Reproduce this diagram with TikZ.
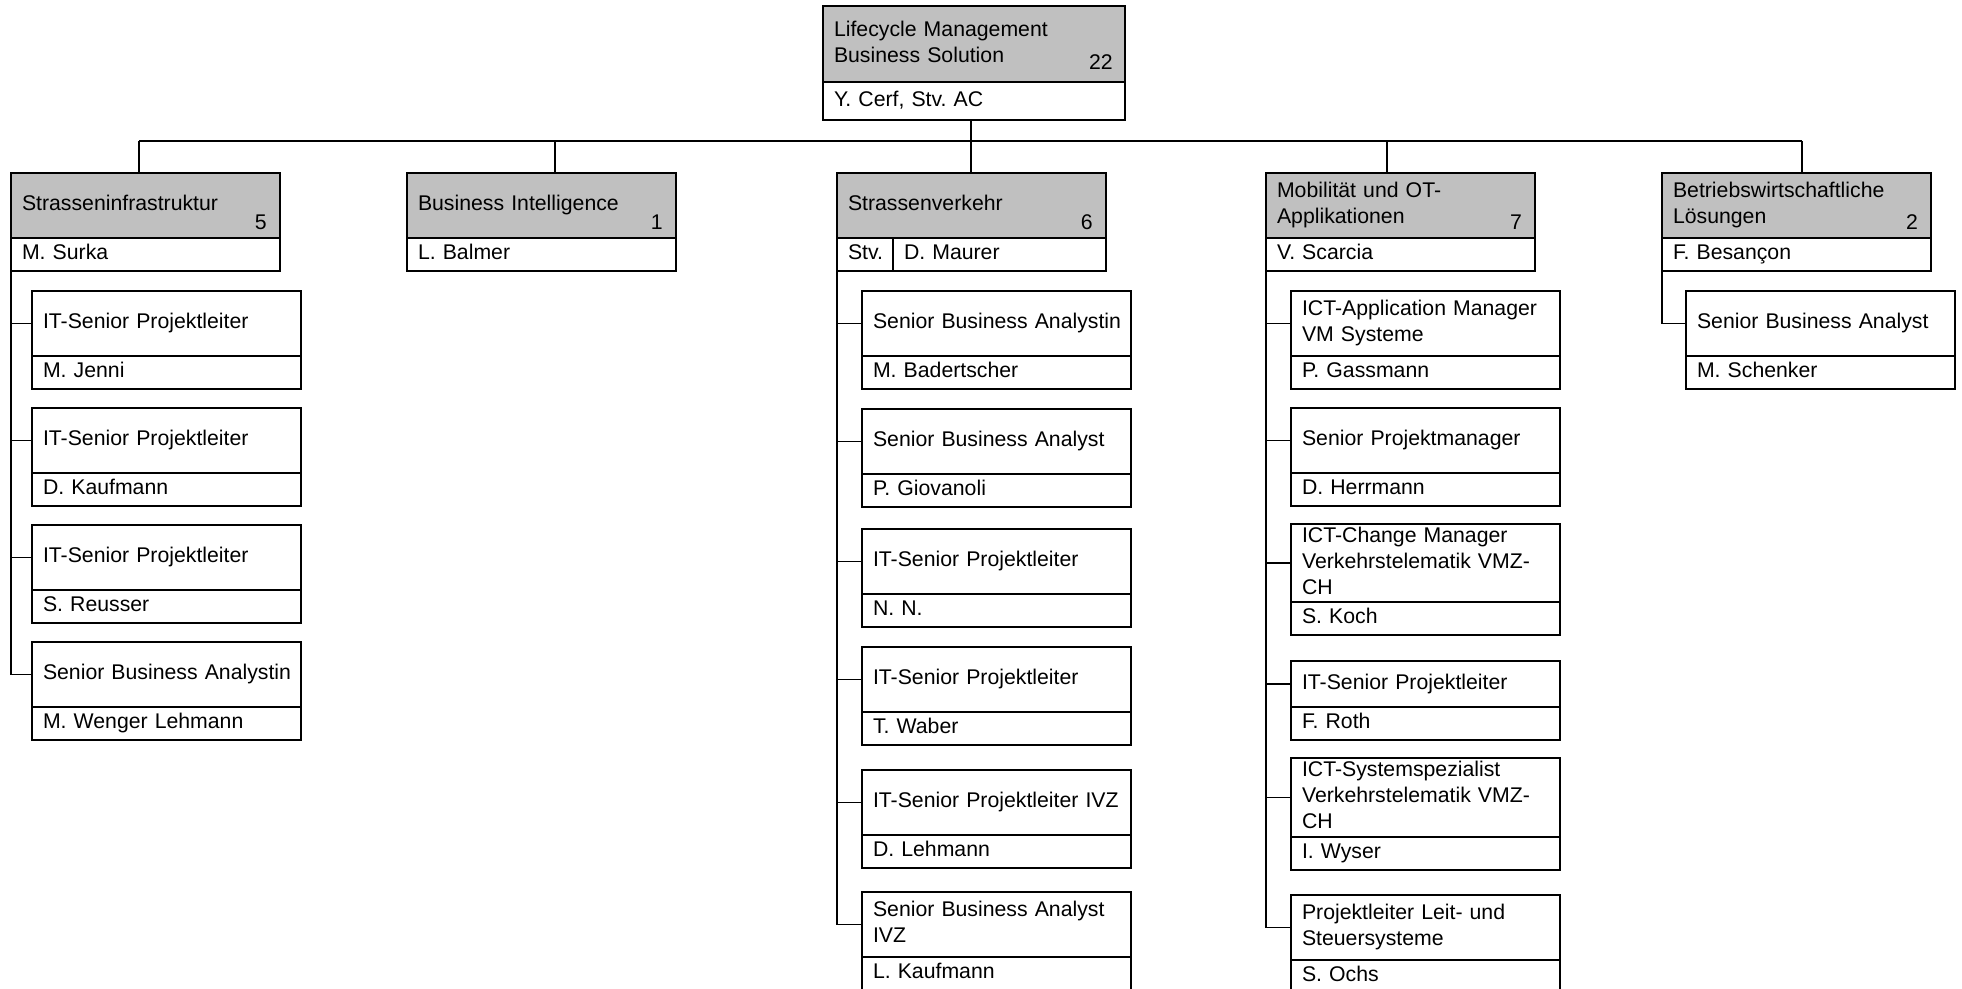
\documentclass[tikz,border=0pt]{standalone}
\usepackage{fontspec}
\setmainfont{Liberation Sans}
\usetikzlibrary{positioning}
\definecolor{headgrey}{RGB}{192,192,192}
\frenchspacing

\begin{document}
\begin{tikzpicture}[x=1pt, y=-1pt,
  every node/.style={font=\fontsize{21.25}{26}\selectfont},
  box/.style={draw, line width=1.7pt, rectangle, anchor=north west, align=left,
    inner xsep=5pt, inner ysep=0pt, outer sep=0pt, text width=259pt,
    execute at begin node={\leftskip=6pt\strut}, execute at end node=\strut},
  headbox/.style={box, fill=headgrey, minimum height=65pt},
  jobbox/.style={box, fill=white, minimum height=65pt},
  namebox/.style={box, fill=white, minimum height=33pt},
  count/.style={anchor=base east, inner sep=0pt},
  link/.style={line width=1.7pt}]
\useasboundingbox (0,0) rectangle (1962,988);

% Top unit
\node[headbox, text width=292pt, minimum height=76pt] (lmbs) at (823,6) {Lifecycle Management\\Business Solution};
\node[namebox, text width=292pt, minimum height=38pt, below=0pt of lmbs] (lmbs-n) {Y. Cerf, Stv. AC};
\node[count] (lmbs-c) at ([shift={(-12,-13)}]lmbs.south east) {22};

% Bus
\coordinate (bus) at (971,141);
\coordinate (d1) at (139,141);
\coordinate (d2) at (555,141);
\coordinate (d4) at (1387,141);
\coordinate (d5) at (1802,141);
\draw[link] (bus |- lmbs-n.south) -- (bus);
\draw[link] (d1) -- (d5);

% Departments
\node[headbox] (si) at (11,173) {Strasseninfrastruktur};
\node[namebox, below=0pt of si] (si-n) {M. Surka};
\node[count] (si-c) at ([shift={(-13,-9)}]si.south east) {5};

\node[headbox] (bi) at (407,173) {Business Intelligence};
\node[namebox, below=0pt of bi] (bi-n) {L. Balmer};
\node[count] (bi-c) at ([shift={(-13,-9)}]bi.south east) {1};

\node[headbox] (sv) at (837,173) {Strassenverkehr};
\node[namebox, text width=46pt] (sv-s) at (sv.south west) {Stv.};
\node[namebox, text width=203pt] (sv-n) at (sv-s.north east) {D. Maurer};
\node[count] (sv-c) at ([shift={(-13,-9)}]sv.south east) {6};

\node[headbox] (mo) at (1266,173) {Mobilität und OT-\\Applikationen};
\node[namebox, below=0pt of mo] (mo-n) {V. Scarcia};
\node[count] (mo-c) at ([shift={(-13,-9)}]mo.south east) {7};

\node[headbox] (bw) at (1662,173) {Betriebswirtschaftliche\\Lösungen};
\node[namebox, below=0pt of bw] (bw-n) {F. Besançon};
\node[count] (bw-c) at ([shift={(-13,-9)}]bw.south east) {2};

\draw[link] (d1) -- (d1 |- si.north);
\draw[link] (d2) -- (d2 |- bi.north);
\draw[link] (bus) -- (bus |- sv.north);
\draw[link] (d4) -- (d4 |- mo.north);
\draw[link] (d5) -- (d5 |- bw.north);

% Strasseninfrastruktur staff
\node[jobbox] (si1) at (32,291) {IT-Senior Projektleiter};
\node[namebox, below=0pt of si1] (si1-n) {M. Jenni};
\node[jobbox] (si2) at (32,408) {IT-Senior Projektleiter};
\node[namebox, below=0pt of si2] (si2-n) {D. Kaufmann};
\node[jobbox] (si3) at (32,525) {IT-Senior Projektleiter};
\node[namebox, below=0pt of si3] (si3-n) {S. Reusser};
\node[jobbox] (si4) at (32,642) {Senior Business Analystin};
\node[namebox, below=0pt of si4] (si4-n) {M. Wenger Lehmann};
\draw[link] (si-n.south west) |- (si1.west);
\draw[link] (si-n.south west) |- (si2.west);
\draw[link] (si-n.south west) |- (si3.west);
\draw[link] (si-n.south west) |- (si4.west);

% Strassenverkehr staff
\node[jobbox] (sv1) at (862,291) {Senior Business Analystin};
\node[namebox, below=0pt of sv1] (sv1-n) {M. Badertscher};
\node[jobbox] (sv2) at (862,409) {Senior Business Analyst};
\node[namebox, below=0pt of sv2] (sv2-n) {P. Giovanoli};
\node[jobbox] (sv3) at (862,529) {IT-Senior Projektleiter};
\node[namebox, below=0pt of sv3] (sv3-n) {N. N.};
\node[jobbox] (sv4) at (862,647) {IT-Senior Projektleiter};
\node[namebox, below=0pt of sv4] (sv4-n) {T. Waber};
\node[jobbox] (sv5) at (862,770) {IT-Senior Projektleiter IVZ};
\node[namebox, below=0pt of sv5] (sv5-n) {D. Lehmann};
\node[jobbox] (sv6) at (862,892) {Senior Business Analyst\\IVZ};
\node[namebox, below=0pt of sv6] (sv6-n) {L. Kaufmann};
\draw[link] (sv-s.south west) |- (sv1.west);
\draw[link] (sv-s.south west) |- (sv2.west);
\draw[link] (sv-s.south west) |- (sv3.west);
\draw[link] (sv-s.south west) |- (sv4.west);
\draw[link] (sv-s.south west) |- (sv5.west);
\draw[link] (sv-s.south west) |- (sv6.west);

% Mobilitaet staff
\node[jobbox] (mo1) at (1291,291) {ICT-Application Manager\\VM Systeme};
\node[namebox, below=0pt of mo1] (mo1-n) {P. Gassmann};
\node[jobbox] (mo2) at (1291,408) {Senior Projektmanager};
\node[namebox, below=0pt of mo2] (mo2-n) {D. Herrmann};
\node[jobbox, minimum height=78pt] (mo3) at (1291,524) {ICT-Change Manager\\Verkehrstelematik VMZ-\\CH};
\node[namebox, below=0pt of mo3] (mo3-n) {S. Koch};
\node[jobbox, minimum height=46pt] (mo4) at (1291,661) {IT-Senior Projektleiter};
\node[namebox, below=0pt of mo4] (mo4-n) {F. Roth};
\node[jobbox, minimum height=79pt] (mo5) at (1291,758) {ICT-Systemspezialist\\Verkehrstelematik VMZ-\\CH};
\node[namebox, below=0pt of mo5] (mo5-n) {I. Wyser};
\node[jobbox] (mo6) at (1291,895) {Projektleiter Leit- und\\Steuersysteme};
\node[namebox, below=0pt of mo6] (mo6-n) {S. Ochs};
\draw[link] (mo-n.south west) |- (mo1.west);
\draw[link] (mo-n.south west) |- (mo2.west);
\draw[link] (mo-n.south west) |- (mo3.west);
\draw[link] (mo-n.south west) |- (mo4.west);
\draw[link] (mo-n.south west) |- (mo5.west);
\draw[link] (mo-n.south west) |- (mo6.west);

% Betriebswirtschaft staff
\node[jobbox] (bw1) at (1686,291) {Senior Business Analyst};
\node[namebox, below=0pt of bw1] (bw1-n) {M. Schenker};
\draw[link] (bw-n.south west) |- (bw1.west);
\end{tikzpicture}
\end{document}
